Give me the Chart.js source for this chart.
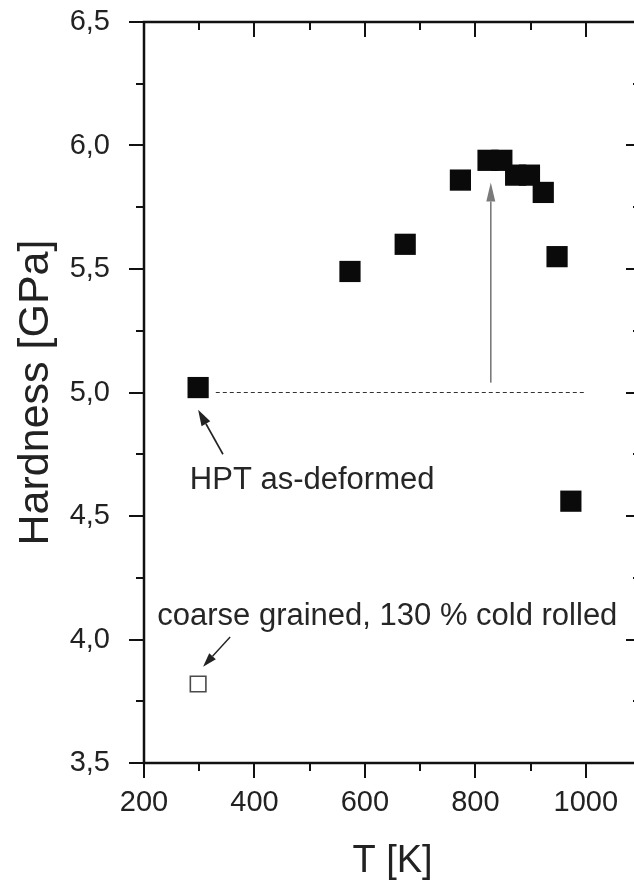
<!DOCTYPE html>
<html>
<head>
<meta charset="utf-8">
<script src="https://cdn.jsdelivr.net/npm/chart.js@4"></script>
<style>
  html, body { margin: 0; padding: 0; background: #fff; overflow: hidden; }
  canvas { display: block; }
</style>
</head>
<body>
<canvas id="hardness-chart" width="660" height="886"></canvas>
<script>
// annealed HPT samples
const hptTemps = [298, 573, 673, 773, 823, 848, 873, 898, 923, 948, 973];
const hptHardness = [5.02, 5.49, 5.60, 5.86, 5.94, 5.94, 5.88, 5.88, 5.81, 5.55, 4.56];

// coarse grained reference
const cgTemps = [298];
const cgHardness = [3.82];

// dashed reference level (as-deformed)
const refTemps = [330, 1000];
const refHardness = [5.0, 5.0];

const xMin = 200, xMax = 1100, xStep = 200;
const yMin = 3.5, yMax = 6.5, yStep = 0.5;

// annotations, in data units
const arrows = [
  { from: [828, 5.04], to: [828, 5.85], color: '#7a7a7a', width: 1.6, head: 19, half: 4.5 },
  { from: [343, 4.75], to: [298, 4.93], color: '#222', width: 1.6, head: 16, half: 5 },
  { from: [356, 4.01], to: [307, 3.89], color: '#222', width: 1.4, head: 14, half: 4.5 }
];
const labels = [
  { text: 'HPT as-deformed', at: [283, 4.61] },
  { text: 'coarse grained, 130 % cold rolled', at: [224, 4.06] }
];

const FONT = '"Liberation Sans", Arial, sans-serif';

function fmtComma(v) {
  return v.toFixed(1).replace('.', ',');
}

const frameTicks = {
  id: 'frameTicks',
  afterDraw(chart) {
    const { ctx, chartArea: a, scales: { x, y } } = chart;
    ctx.save();
    ctx.strokeStyle = '#111';
    ctx.lineWidth = 2.5;
    ctx.strokeRect(a.left, a.top, a.right - a.left, a.bottom - a.top);
    ctx.lineWidth = 2;
    ctx.beginPath();
    for (let v = xMin; v <= xMax; v += xStep / 2) {
      const px = Math.round(x.getPixelForValue(v));
      const len = (v - xMin) % xStep === 0 ? 15 : 8;
      ctx.moveTo(px, a.bottom); ctx.lineTo(px, a.bottom + len);
      ctx.moveTo(px, a.top); ctx.lineTo(px, a.top + len);
    }
    for (let k = 0; k <= (yMax - yMin) / (yStep / 2); k++) {
      const v = yMin + k * yStep / 2;
      const py = Math.round(y.getPixelForValue(v));
      const len = k % 2 === 0 ? 15 : 8;
      ctx.moveTo(a.left, py); ctx.lineTo(a.left - len, py);
      ctx.moveTo(a.right, py); ctx.lineTo(a.right - len, py);
    }
    ctx.stroke();
    ctx.restore();
  }
};

const notes = {
  id: 'notes',
  afterDatasetsDraw(chart) {
    const { ctx, scales: { x, y } } = chart;
    ctx.save();
    arrows.forEach(ar => {
      const x0 = x.getPixelForValue(ar.from[0]), y0 = y.getPixelForValue(ar.from[1]);
      const x1 = x.getPixelForValue(ar.to[0]), y1 = y.getPixelForValue(ar.to[1]);
      const ang = Math.atan2(y1 - y0, x1 - x0);
      const bx = x1 - ar.head * Math.cos(ang), by = y1 - ar.head * Math.sin(ang);
      ctx.strokeStyle = ar.color;
      ctx.fillStyle = ar.color;
      ctx.lineWidth = ar.width;
      ctx.beginPath();
      ctx.moveTo(x0, y0);
      ctx.lineTo(bx, by);
      ctx.stroke();
      ctx.beginPath();
      ctx.moveTo(x1, y1);
      ctx.lineTo(bx + ar.half * Math.sin(ang), by - ar.half * Math.cos(ang));
      ctx.lineTo(bx - ar.half * Math.sin(ang), by + ar.half * Math.cos(ang));
      ctx.closePath();
      ctx.fill();
    });
    ctx.fillStyle = '#262626';
    ctx.font = '31px ' + FONT;
    ctx.textAlign = 'left';
    ctx.textBaseline = 'alphabetic';
    labels.forEach(l => {
      ctx.fillText(l.text, x.getPixelForValue(l.at[0]), y.getPixelForValue(l.at[1]));
    });
    ctx.restore();
  }
};

const ctx = document.getElementById('hardness-chart');

new Chart(ctx, {
  type: 'scatter',
  data: {
    datasets: [
      {
        label: 'reference',
        type: 'line',
        data: refTemps.map((t, i) => ({ x: t, y: refHardness[i] })),
        borderColor: '#333',
        borderWidth: 1,
        borderDash: [4, 3],
        pointRadius: 0,
        fill: false
      },
      {
        label: 'HPT',
        data: hptTemps.map((t, i) => ({ x: t, y: hptHardness[i] })),
        pointStyle: 'rect',
        pointRadius: 15,
        backgroundColor: '#0a0a0a',
        borderColor: '#0a0a0a',
        borderWidth: 0
      },
      {
        label: 'coarse grained',
        data: cgTemps.map((t, i) => ({ x: t, y: cgHardness[i] })),
        pointStyle: 'rect',
        pointRadius: 11,
        backgroundColor: '#fff',
        borderColor: '#4a4a4a',
        borderWidth: 1.6
      }
    ]
  },
  options: {
    responsive: false,
    animation: false,
    layout: { padding: { top: 22, right: 19, left: 0, bottom: 0 } },
    plugins: {
      legend: { display: false },
      tooltip: { enabled: false }
    },
    scales: {
      x: {
        type: 'linear',
        min: xMin,
        max: xMax,
        afterFit: s => { s.height = 123; s.paddingLeft = 0; s.paddingRight = 0; },
        border: { display: false },
        grid: { drawOnChartArea: false, drawTicks: true, tickLength: 15, tickColor: 'rgba(0,0,0,0)' },
        ticks: {
          stepSize: xStep,
          includeBounds: false,
          maxRotation: 0,
          padding: 8,
          color: '#222',
          font: { family: FONT, size: 29 },
          callback: v => String(v)
        },
        title: {
          display: true,
          text: 'T [K]',
          color: '#222',
          font: { family: FONT, size: 38 },
          padding: { top: 0, bottom: 2 }
        }
      },
      y: {
        type: 'linear',
        min: yMin,
        max: yMax,
        afterFit: s => { s.width = 144; s.paddingTop = 0; s.paddingBottom = 0; },
        border: { display: false },
        grid: { drawOnChartArea: false, drawTicks: true, tickLength: 15, tickColor: 'rgba(0,0,0,0)' },
        ticks: {
          stepSize: yStep,
          padding: 19,
          color: '#222',
          font: { family: FONT, size: 29 },
          callback: v => fmtComma(v)
        },
        title: {
          display: true,
          text: 'Hardness [GPa]',
          color: '#222',
          font: { family: FONT, size: 43 },
          padding: { top: 10, bottom: 0 }
        }
      }
    }
  },
  plugins: [frameTicks, notes]
});
</script>
</body>
</html>
